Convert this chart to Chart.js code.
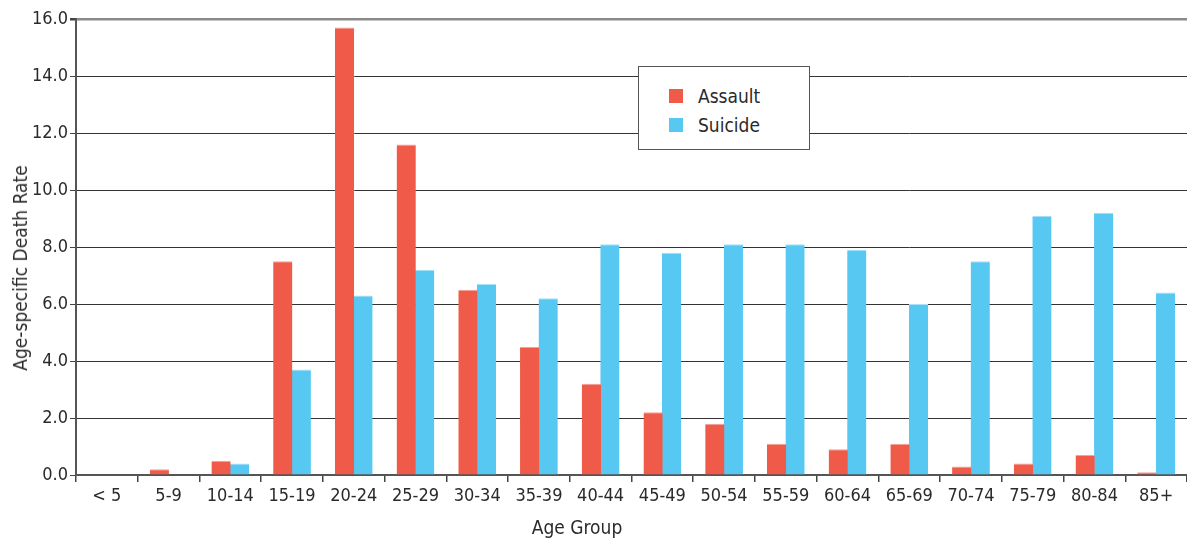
<!DOCTYPE html>
<html>
<head>
<meta charset="utf-8">
<script src="https://cdn.jsdelivr.net/npm/chart.js@4/dist/chart.umd.min.js"></script>
<style>
  html, body { margin: 0; padding: 0; background: #fff; }
  #wrap { position: relative; width: 1187px; height: 542px; overflow: hidden; }
  #legend {
    position: absolute; left: 638px; top: 66px; width: 170px; height: 82px;
    border: 1.5px solid #555; background: #fff;
    font-family: 'Liberation Sans Narrow', 'DejaVu Sans Condensed', sans-serif;
    font-size: 19px; color: #2a2a2a;
  }
  .item { position: absolute; left: 30px; height: 20px; line-height: 20px; }
  .item span.sw { position: absolute; left: 0; top: 3px; width: 14px; height: 14px; }
  .item span.lb { position: absolute; left: 29px; top: 0; white-space: nowrap; }
  .axtitle {
    position: absolute;
    font-family: 'Liberation Sans Narrow', 'DejaVu Sans Condensed', sans-serif;
    font-size: 19px; color: #2a2a2a; white-space: nowrap;
  }
  #xtitle { left: 577px; top: 516px; transform: translateX(-50%); }
  #ytitle { left: 20px; top: 268px; transform: translate(-50%, -50%) rotate(-90deg); }
</style>
</head>
<body>
<div id="wrap">
  <canvas id="chart" width="1187" height="542"></canvas>
  <div id="legend"></div>
  <div class="axtitle" id="xtitle">Age Group</div>
  <div class="axtitle" id="ytitle">Age-specific Death Rate</div>
</div>
<script>
// Age groups and rates per series
const ageGroups = ['< 5', '5-9', '10-14', '15-19', '20-24', '25-29', '30-34', '35-39', '40-44',
  '45-49', '50-54', '55-59', '60-64', '65-69', '70-74', '75-79', '80-84', '85+'];
const assaultRates = [0, 0.2, 0.5, 7.5, 15.7, 11.6, 6.5, 4.5, 3.2, 2.2, 1.8, 1.1, 0.9, 1.1, 0.3, 0.4, 0.7, 0.1];
const suicideRates = [0, 0, 0.4, 3.7, 6.3, 7.2, 6.7, 6.2, 8.1, 7.8, 8.1, 8.1, 7.9, 6.0, 7.5, 9.1, 9.2, 6.4];
const yTicks = [0, 2, 4, 6, 8, 10, 12, 14, 16];

const FONT = "'Liberation Sans Narrow', 'DejaVu Sans Condensed', sans-serif";
const RED = '#F05A48';
const BLUE = '#56C8F2';

const series = [
  { label: 'Assault', data: assaultRates, color: RED, edge: '#F7A096' },
  { label: 'Suicide', data: suicideRates, color: BLUE, edge: '#A6E2F8' }
];

// html legend
const legendEl = document.getElementById('legend');
series.forEach((s, i) => {
  const div = document.createElement('div');
  div.className = 'item';
  div.style.top = (19 + i * 29) + 'px';
  div.innerHTML = '<span class="sw" style="background:' + s.color + '"></span><span class="lb">' + s.label + '</span>';
  legendEl.appendChild(div);
});

const ctx = document.getElementById('chart').getContext('2d');
new Chart(ctx, {
  type: 'bar',
  data: {
    labels: ageGroups,
    datasets: series.map(s => ({
      label: s.label,
      data: s.data,
      backgroundColor: s.color,
      borderColor: s.edge,
      borderWidth: { top: 1, left: 0, right: 0, bottom: 0 },
      categoryPercentage: 0.6,
      barPercentage: 1.04 // slight overlap so the pair touches
    }))
  },
  options: {
    responsive: false,
    animation: false,
    layout: { padding: { top: 19, right: 0, left: 0, bottom: 0 } },
    plugins: {
      legend: { display: false },
      tooltip: { enabled: false }
    },
    scales: {
      x: {
        offset: true,
        grid: {
          offset: true,
          drawOnChartArea: false,
          drawTicks: true,
          tickLength: 7,
          color: '#444',
          lineWidth: 1.5
        },
        border: { color: '#555', width: 2 },
        ticks: {
          color: '#2a2a2a',
          font: { family: FONT, size: 18 },
          padding: 4,
          maxRotation: 0,
          autoSkip: false
        },
        afterFit: function(scale) { scale.height = 67; }
      },
      y: {
        min: 0,
        max: 16,
        afterBuildTicks: function(scale) {
          scale.ticks = yTicks.map(v => ({ value: v }));
        },
        grid: {
          color: ctx => ctx.tick && ctx.tick.value === 16 ? '#8a8a8a' : '#333',
          lineWidth: ctx => ctx.tick && ctx.tick.value === 16 ? 2.5 : 1,
          tickLength: 6,
          tickColor: '#444'
        },
        border: { color: '#555', width: 2 },
        ticks: {
          color: '#2a2a2a',
          font: { family: FONT, size: 18 },
          padding: 2,
          callback: v => Number(v).toFixed(1)
        },
        afterFit: function(scale) { scale.width = 76; }
      }
    }
  }
});
</script>
</body>
</html>
